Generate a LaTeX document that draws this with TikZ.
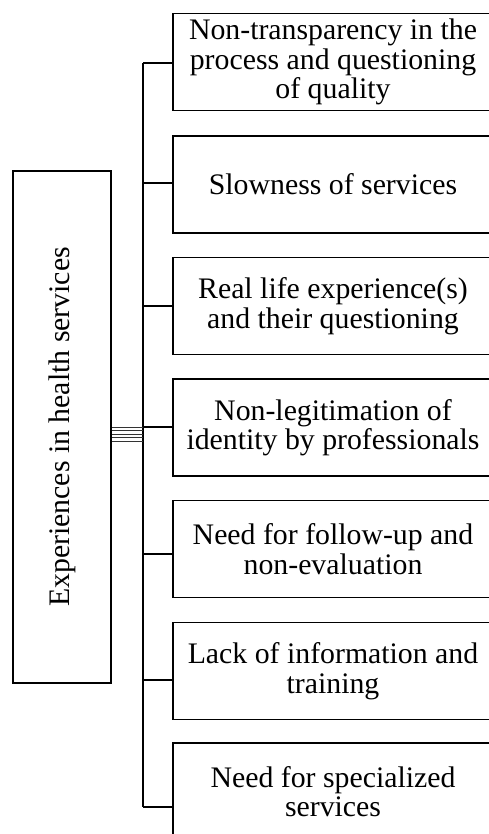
\documentclass[tikz,border=0pt]{standalone}
\usepackage{fontspec}
\setmainfont{Liberation Serif}
\begin{document}
\begin{tikzpicture}[x=1pt,y=-1pt,
  cat/.style={draw=black, line width=1.8pt, minimum width=320pt, minimum height=97pt,
    inner sep=0pt, align=center, font=\fontsize{29.8}{29.5}\selectfont},
  mainbox/.style={draw=black, line width=1.8pt, minimum width=98pt, minimum height=512pt, inner sep=0pt},
  lbl/.style={font=\fontsize{29.8}{29.5}\selectfont, inner sep=0pt},
  bus/.style={line width=1.8pt},
  conn/.style={line width=1.5pt},
  thin/.style={line width=0.9pt, black!80}]
\useasboundingbox (0,0) rectangle (489,834);
\clip (0,0) rectangle (489,834);
\fill[white] (0,0) rectangle (489,834);
% left box
\node[mainbox] (main) at (62,427) {};
\node[lbl, rotate=90] (mainlbl) at (main.center) {Experiences in health services};
% category boxes
\node[cat] (b1) at (333,62) {Non-transparency in the\\process and questioning\\of quality};
\node[cat] (b2) at (333,184.5) {Slowness of services};
\node[cat] (b3) at (333,306) {Real life experience(s)\\and their questioning};
\node[cat] (b4) at (333,427.5) {Non-legitimation of\\identity by professionals};
\node[cat] (b5) at (333,549) {Need for follow-up and\\non-evaluation};
\node[cat] (b6) at (333,671) {Lack of information and\\training};
\node[cat] (b7) at (333,791.5) {Need for specialized\\services};
% bus
\coordinate (bt) at (143,63);
\coordinate (bb) at (143,807);
\draw[bus] (bt) -- (bb);
% connectors
\draw[conn] (bt) -- (b1.west |- bt);
\coordinate (c2) at (143,183);
\draw[conn] (c2) -- (b2.west |- c2);
\coordinate (c3) at (143,306);
\draw[conn] (c3) -- (b3.west |- c3);
\coordinate (c4) at (143,427);
\draw[conn] (c4) -- (b4.west |- c4);
\coordinate (c5) at (143,554);
\draw[conn] (c5) -- (b5.west |- c5);
\coordinate (c6) at (143,680);
\draw[conn] (c6) -- (b6.west |- c6);
\draw[conn] (bb) -- (b7.west |- bb);
% multiple thin lines from main box to bus
\foreach \yy in {427,430.5,434,437.5,441}{
  \draw[thin] (main.east |- 0,\yy) -- (143,\yy);
}
\end{tikzpicture}
\end{document}
